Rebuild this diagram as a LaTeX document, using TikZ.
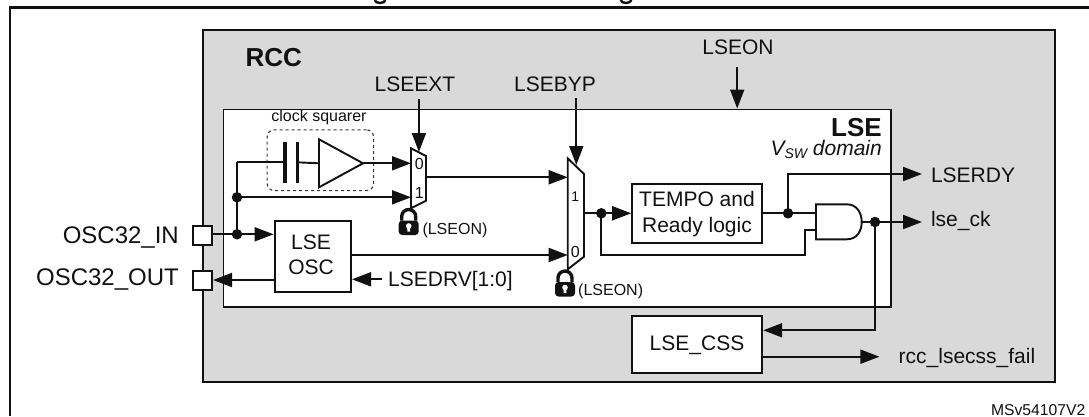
\documentclass[tikz,border=0pt]{standalone}
\usepackage{fontspec}
\setmainfont{Liberation Sans}
\usetikzlibrary{arrows.meta,calc}
\definecolor{rccgrey}{HTML}{D9D9D9}
\definecolor{ink}{HTML}{111111}
\newcommand{\fs}[1]{\fontsize{#1}{#1}\selectfont}
\tikzset{
  wire/.style={draw=ink,line width=1.9pt},
  arr/.style={wire,-{Triangle[length=19pt,width=14pt]}},
  blockbox/.style={draw=ink,fill=white,line width=2pt,inner sep=0pt,align=center,font=\fs{21}},
  pinbox/.style={draw=ink,fill=white,line width=2pt,inner sep=0pt,minimum width=19pt,minimum height=19pt},
  dot/.style={circle,fill=ink,inner sep=0pt,minimum size=10.5pt},
  lbl/.style={inner sep=0pt,text=ink,font=\fs{21}},
  small/.style={inner sep=0pt,text=ink,font=\fs{16}},
  muxshape/.style={draw=ink,fill=white,line width=1.9pt,line join=miter},
  lockpic/.pic={
    \fill[ink,rounded corners=3.5pt] (-10,-7) rectangle (10,7.5);
    \draw[ink,line width=3.4pt] (-7,-7) -- (-7,-11) arc[start angle=180,end angle=0,radius=7pt] -- (7,-7);
    \fill[white] (0,-1.5) circle[radius=2.8pt];
    \fill[white] (-1.6,-1) -- (1.6,-1) -- (1.3,4.2) -- (-1.3,4.2) -- cycle;
  }
}
\begin{document}
\begin{tikzpicture}[x=1pt,y=-1pt]
\useasboundingbox (0,0) rectangle (1089,416);
\fill[white] (0,0) rectangle (1089,416);
% clipped title remnants and page frame
\draw[ink,line width=2.4pt] (374.5,0) .. controls (376,4) and (384,4) .. (385.5,0);
\draw[ink,line width=2.4pt] (620.5,0) .. controls (622,4) and (630,4) .. (631.5,0);
\draw[ink,line width=2.4pt] (10,416) -- (10,7.5) -- (1089,7.5);
% containers
\node[draw=ink,fill=rccgrey,line width=2pt,inner sep=0pt,minimum width=852pt,minimum height=352pt,anchor=north west] (rcc) at (202,29) {};
\node[draw=ink,fill=white,line width=1.6pt,inner sep=0pt,minimum width=667.5pt,minimum height=197.5pt,anchor=north west] (lse) at (222.5,108.5) {};
% blocks
\node[blockbox,minimum width=76.4pt,minimum height=71.5pt,anchor=north west] (osc) at (273.6,219.5) {};
\node[blockbox,minimum width=130pt,minimum height=58.7pt,anchor=north west] (tempo) at (631.2,183) {};
\node[blockbox,minimum width=130pt,minimum height=56.7pt,anchor=north west] (css) at (631.2,315) {};
\node[pinbox,anchor=north west] (pinin) at (192,225) {};
\node[pinbox,anchor=north west] (pinout) at (192,270) {};
% clock squarer
\node[draw=ink!85,dashed,line width=1.1pt,rounded corners=7pt,inner sep=0pt,minimum width=106.4pt,minimum height=60.7pt,anchor=north west] (sq) at (266.6,129.3) {};
\node[small] (sqlab) at (319,117.5) {clock squarer};
% muxes
\draw[muxshape] (411,148.3) -- (426,156) -- (426,200.7) -- (411,208.3) -- cycle;
\draw[muxshape] (567.7,158.3) -- (584,174) -- (584,256.7) -- (567.7,269.3) -- cycle;
% named ports
\coordinate (capa) at (285,162.3);
\coordinate (capb) at (297.2,162.3);
\coordinate (tria) at (319,163.3);
\coordinate (trib) at (363,163.3);
\coordinate (mAa) at (411,163.3);
\coordinate (mAb) at (411,197.3);
\coordinate (mAc) at (418.9,152);
\coordinate (mAo) at (426,177.3);
\coordinate (mBa) at (567.7,177.3);
\coordinate (mBb) at (567.7,255);
\coordinate (mBc) at (576.3,165);
\coordinate (mBo) at (584,213.3);
\coordinate (andA) at (816,213.3);
\coordinate (andB) at (816,230.3);
\coordinate (andO) at (861.7,222);
\coordinate (busT) at (237,162.3);
\coordinate (fbk) at (805,255.3);
\coordinate (extS) at (418.9,99);
\coordinate (bypS) at (576.3,98.3);
\coordinate (onS) at (737.2,66.7);
\coordinate (onE) at (737.2,108.5);
\coordinate (drvS) at (382.4,279.3);
\coordinate (rdyE) at (922,174);
\coordinate (ckE) at (922,222);
\coordinate (failE) at (879.4,356.7);
% junction dots
\node[dot] (jA) at (237,197.3) {};
\node[dot] (jB) at (237,234.3) {};
\node[dot] (jC) at (601.3,213.3) {};
\node[dot] (jD) at (788,213.3) {};
\node[dot] (jE) at (875,222) {};
% labels
\node[lbl,anchor=base west,font=\bfseries\fs{26}] (trcc) at (245.4,66.5) {RCC};
\node[lbl,anchor=base] (tlseext) at (415,91.5) {LSEEXT};
\node[lbl,anchor=base] (tlsebyp) at (555,91.5) {LSEBYP};
\node[lbl,anchor=base] (tlseon) at (738,54.2) {LSEON};
\node[lbl,anchor=base east,font=\bfseries\fs{26}] (tlse) at (882,136.5) {LSE};
\node[lbl,anchor=base east,font=\itshape\fs{21}] (tdom) at (882,155) {V\raisebox{-3pt}{\fs{14}SW} domain};
\node[lbl,anchor=base west] (tdrv) at (388,286.2) {LSEDRV[1:0]};
\node[lbl,anchor=base west] (trdy) at (930.8,182.5) {LSERDY};
\node[lbl,anchor=base west] (tck) at (930.8,226) {lse\_ck};
\node[lbl,anchor=base west] (tfail) at (898.5,363.5) {rcc\_lsecss\_fail};
\node[lbl,anchor=base east,font=\fs{24}] (tin) at (179,243) {OSC32\_IN};
\node[lbl,anchor=base east,font=\fs{24}] (tout) at (179,285.4) {OSC32\_OUT};
\node[small,anchor=base west] (tlockA) at (422.3,234) {(LSEON)};
\node[small,anchor=base west] (tlockB) at (578,295.7) {(LSEON)};
\node[small,anchor=base east,font=\fs{15.7}] (tref) at (1085.5,415.8) {MSv54107V2};
\node[lbl,anchor=base] (toscA) at (311,249.2) {LSE};
\node[lbl,anchor=base] (toscB) at (311,274.2) {OSC};
\node[lbl,anchor=base] (ttA) at (697,206.5) {TEMPO and};
\node[lbl,anchor=base] (ttB) at (697,232.8) {Ready logic};
\node[lbl,anchor=base] (tcss) at (697,350.2) {LSE\_CSS};
% wires
\draw[wire] (busT) -- (jB.center);
\draw[wire] (busT) -- (capa);
\draw[wire] (capb) -- (tria);
\draw[ink,line width=3.2pt] (285,141.7) -- (285,183);
\draw[ink,line width=3.2pt] (297.2,141.7) -- (297.2,183);
\draw[draw=ink,fill=white,line width=1.9pt,line join=miter] (319,139.3) -- (trib) -- (319,187.3) -- cycle;
\draw[arr] (trib) -- (mAa);
\draw[arr] (jA.center) -- (mAb);
\draw[wire] (pinin.east |- jB) -- (jB.center);
\draw[arr] (jB.center) -- (osc.west |- jB);
\draw[arr] (osc.west |- 0,280) -- (pinout.east |- 0,280);
\draw[arr] (osc.east |- mBb) -- (mBb);
\draw[arr] (mAo) -- (mBa);
\draw[wire] (mBo) -- (jC.center);
\draw[arr] (jC.center) -- (tempo.west |- jC);
\draw[wire] (jC.center) |- (fbk) |- (andB);
\draw[wire] (tempo.east |- jD) -- (andA);
\draw[arr] (jD.center) |- (rdyE);
\draw[wire] (andO) -- (jE.center);
\draw[arr] (jE.center) -- (ckE);
\draw[arr] (jE.center) |- (css.east |- 0,330.3);
\draw[arr] (css.east |- failE) -- (failE);
\draw[arr] (extS) -- (mAc);
\draw[arr] (bypS) -- (mBc);
\draw[arr] (onS) -- (onE);
\draw[arr] (drvS) -- (osc.east |- drvS);
% mux inputs
\node[lbl,font=\fs{16}] (mA0) at (419.3,164.3) {0};
\node[lbl,font=\fs{16}] (mA1) at (419.3,193.3) {1};
\node[lbl,font=\fs{14}] (mB1) at (575.3,196.7) {1};
\node[lbl,font=\fs{16}] (mB0) at (575.3,251.7) {0};
% AND gate
\draw[draw=ink,fill=white,line width=1.9pt] (816,204.3) -- (846.7,204.3) .. controls (857,204.3) and (861.7,213) .. (andO) .. controls (861.7,231) and (857,239.3) .. (846.7,239.3) -- (816,239.3) -- cycle;
% locks
\pic at (408.7,227.5) {lockpic};
\pic at (565,289) {lockpic};
\end{tikzpicture}
\end{document}
